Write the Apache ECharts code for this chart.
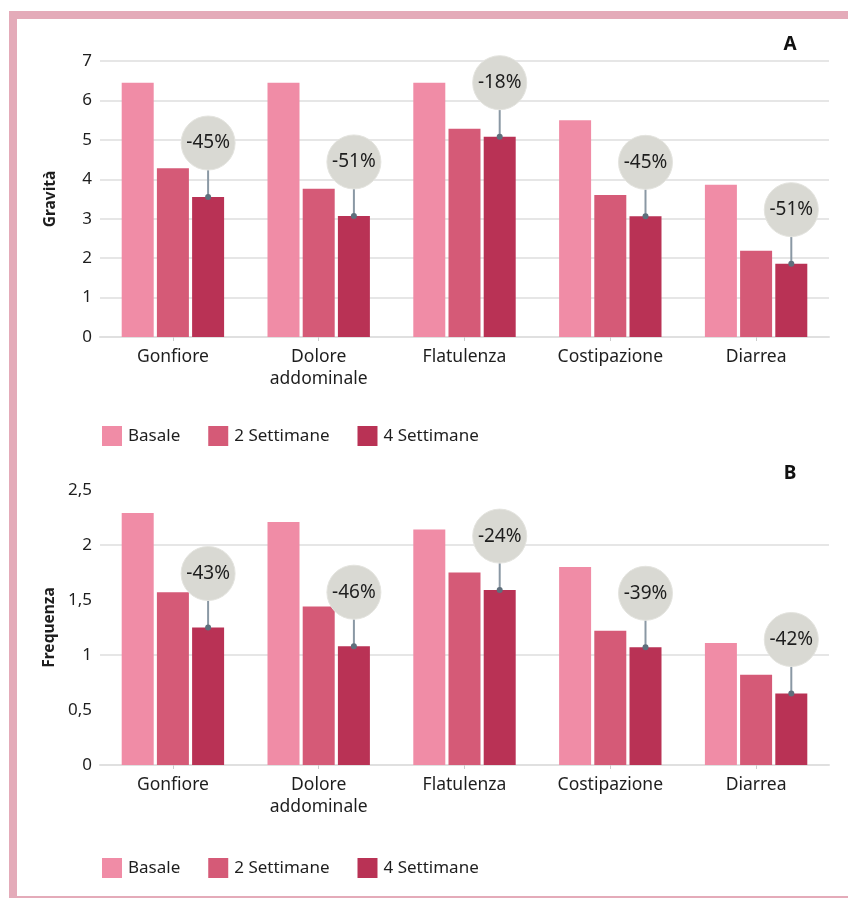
<!DOCTYPE html>
<html>
<head>
<meta charset="utf-8">
<title>Gravità e frequenza dei sintomi</title>
<script src="https://cdn.jsdelivr.net/npm/echarts@6/dist/echarts.min.js"></script>
<style>
  html, body { margin: 0; padding: 0; background: #ffffff; }
  #chart { width: 848px; height: 898px; }
</style>
</head>
<body>
<div id="chart"></div>
<script>
// Symptom categories and legend series
const categories = ['Gonfiore', 'Dolore\naddominale', 'Flatulenza', 'Costipazione', 'Diarrea'];
const seriesNames = ['Basale', '2 Settimane', '4 Settimane'];

// Panel A: severity score
const gravitaBasale = [6.45, 6.45, 6.45, 5.5, 3.86];
const gravita2Sett = [4.28, 3.76, 5.28, 3.6, 2.19];
const gravita4Sett = [3.55, 3.07, 5.08, 3.06, 1.86];
const gravitaChange = ['-45%', '-51%', '-18%', '-45%', '-51%'];

// Panel B: frequency score
const freqBasale = [2.29, 2.21, 2.14, 1.8, 1.11];
const freq2Sett = [1.57, 1.44, 1.75, 1.22, 0.82];
const freq4Sett = [1.25, 1.08, 1.59, 1.07, 0.65];
const freqChange = ['-43%', '-46%', '-24%', '-39%', '-42%'];

const FONT = 'Noto Sans';
const COLORS = ['#f08ca6', '#d55a77', '#b93255'];
const BAR_W = 32;
const BAR_GAP = 0.1;
const TEXT = '#1e1e1e';

const chart = echarts.init(document.getElementById('chart'), null, { renderer: 'canvas' });

function xAxisFor(gridIndex) {
  return {
    type: 'category',
    gridIndex: gridIndex,
    data: categories,
    axisLine: { lineStyle: { color: '#e0e0e0', width: 2 } },
    axisTick: { show: true, alignWithLabel: true, length: 4, lineStyle: { color: '#cccccc' } },
    axisLabel: { color: TEXT, fontFamily: FONT, fontSize: 17.5, margin: 9, lineHeight: 22 }
  };
}

function yAxisFor(gridIndex, name, max, interval, formatter, splitColors) {
  return {
    type: 'value',
    gridIndex: gridIndex,
    min: 0,
    max: max,
    interval: interval,
    name: name,
    nameLocation: 'middle',
    nameGap: 41,
    nameRotate: 90,
    nameTextStyle: { color: TEXT, fontFamily: FONT, fontSize: 15.5, fontWeight: 'bold' },
    axisLine: { show: false },
    axisTick: { show: false },
    axisLabel: { color: TEXT, fontFamily: FONT, fontSize: 17, margin: 8, formatter: formatter },
    splitLine: { show: true, lineStyle: { color: splitColors, width: 2 } }
  };
}

function barSeries(name, data, idx, axisIdx) {
  return {
    type: 'bar',
    name: name,
    data: data,
    xAxisIndex: axisIdx,
    yAxisIndex: axisIdx,
    barWidth: BAR_W,
    barGap: (BAR_GAP * 100) + '%',
    itemStyle: { color: COLORS[idx] },
    z: 2
  };
}

// Bubble with the percentage change, linked by a stem to the top of the 4-week bar
function changeSeries(values, labels, axisIdx) {
  return {
    type: 'custom',
    name: 'variazione',
    xAxisIndex: axisIdx,
    yAxisIndex: axisIdx,
    clip: false,
    z: 5,
    silent: true,
    data: values.map((v, i) => [i, v, labels[i]]),
    renderItem: function (params, api) {
      const top = api.coord([api.value(0), api.value(1)]);
      const x = top[0] + BAR_W * (1 + BAR_GAP);
      const r = 27;
      const cy = top[1] - 54;
      return {
        type: 'group',
        children: [
          { type: 'line', shape: { x1: x, y1: cy + r, x2: x, y2: top[1] },
            style: { stroke: '#8a98a4', lineWidth: 2 } },
          { type: 'circle', shape: { cx: x, cy: cy, r: r },
            style: { fill: '#d9d9d3', stroke: '#e4e4df', lineWidth: 1 } },
          { type: 'circle', shape: { cx: x, cy: top[1], r: 3 },
            style: { fill: '#5f6f7c' } },
          { type: 'text', x: x, y: cy,
            style: { text: api.value(2), fill: TEXT, font: '19px "' + FONT + '"',
                     align: 'center', verticalAlign: 'middle' } }
        ]
      };
    }
  };
}

const legendBase = {
  data: seriesNames,
  left: 102,
  padding: 0,
  icon: 'rect',
  itemWidth: 20,
  itemHeight: 20,
  itemGap: 28,
  textStyle: { color: TEXT, fontFamily: FONT, fontSize: 17, padding: [0, 0, 0, 1] }
};

const option = {
  backgroundColor: '#ffffff',
  animation: false,
  textStyle: { fontFamily: FONT },
  grid: [
    { left: 100, right: 19, top: 61, height: 276 },
    { left: 100, right: 19, top: 490, height: 275 }
  ],
  xAxis: [xAxisFor(0), xAxisFor(1)],
  yAxis: [
    yAxisFor(0, 'Gravità', 7, 1, '{value}', '#e6e6e6'),
    yAxisFor(1, 'Frequenza', 2.5, 0.5,
      v => String(v).replace('.', ','), ['#e6e6e6', 'rgba(0,0,0,0)'])
  ],
  legend: [
    Object.assign({}, legendBase, { top: 426 }),
    Object.assign({}, legendBase, { top: 858 })
  ],
  graphic: [
    // frame
    { type: 'rect', shape: { x: 9, y: 11, width: 839, height: 8 }, style: { fill: '#e4abb9' } },
    { type: 'rect', shape: { x: 9, y: 11, width: 8, height: 887 }, style: { fill: '#e4abb9' } },
    { type: 'rect', shape: { x: 9, y: 896, width: 839, height: 2 }, style: { fill: '#e4abb9' } },
    // panel letters
    { type: 'text', x: 790, y: 45, style: { text: 'A', fill: '#111', font: 'bold 19px "' + FONT + '"', align: 'center', verticalAlign: 'middle' } },
    { type: 'text', x: 790, y: 474, style: { text: 'B', fill: '#111', font: 'bold 19px "' + FONT + '"', align: 'center', verticalAlign: 'middle' } }
  ],
  series: [
    barSeries(seriesNames[0], gravitaBasale, 0, 0),
    barSeries(seriesNames[1], gravita2Sett, 1, 0),
    barSeries(seriesNames[2], gravita4Sett, 2, 0),
    changeSeries(gravita4Sett, gravitaChange, 0),
    barSeries(seriesNames[0], freqBasale, 0, 1),
    barSeries(seriesNames[1], freq2Sett, 1, 1),
    barSeries(seriesNames[2], freq4Sett, 2, 1),
    changeSeries(freq4Sett, freqChange, 1)
  ]
};

chart.setOption(option);
</script>
</body>
</html>
